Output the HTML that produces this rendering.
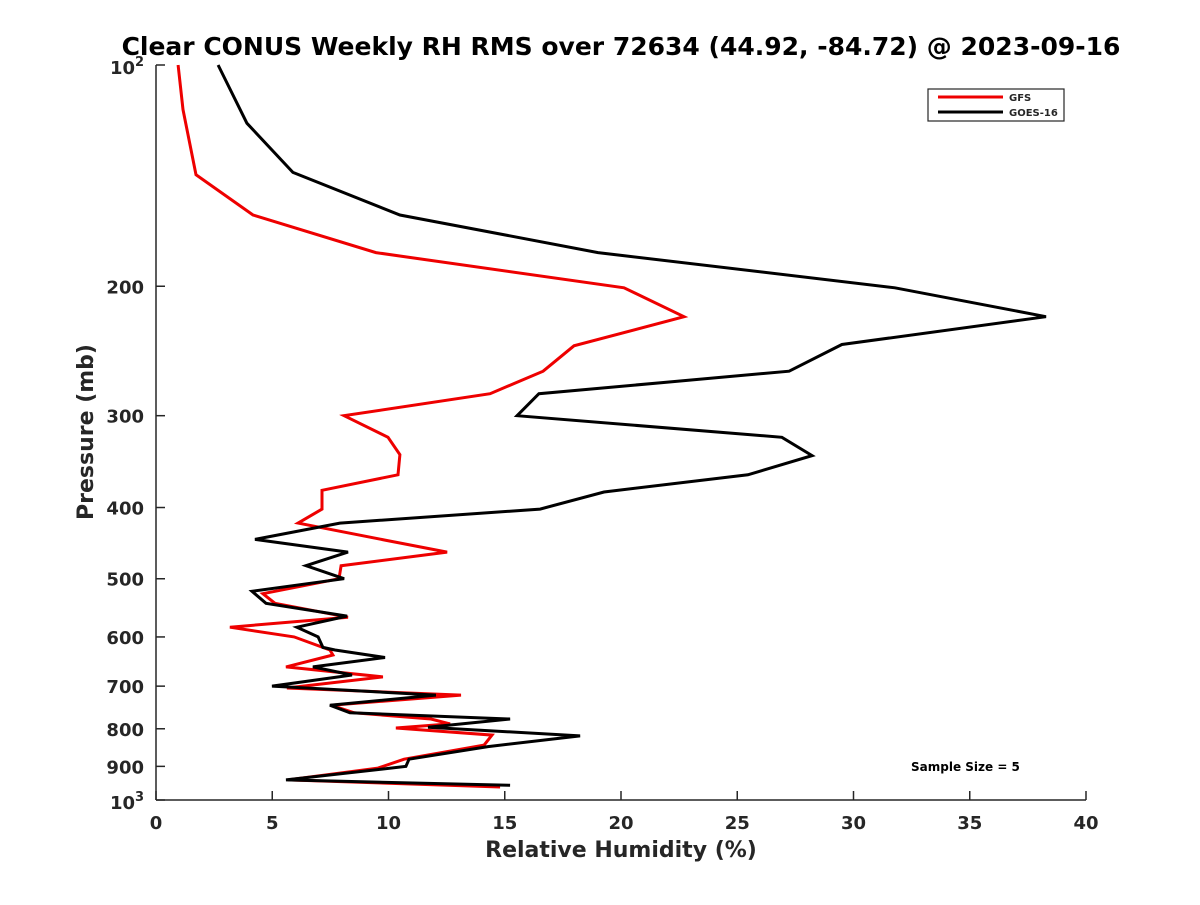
<!DOCTYPE html>
<html><head><meta charset="utf-8"><style>
body{margin:0;background:#fff}
svg text{font-family:"DejaVu Sans","Liberation Sans",sans-serif;font-weight:bold;fill:#262626}
</style></head><body>
<svg width="1200" height="900" id="c">
<rect width="1200" height="900" fill="#fff"/>
<text x="621" y="55" font-size="25" text-anchor="middle" style="fill:#000">Clear CONUS Weekly RH RMS over 72634 (44.92, -84.72) @ 2023-09-16</text>
<g id="axes"></g>
<g id="series"></g>
<g>
<rect x="928" y="89" width="136" height="32" fill="#fff" stroke="#262626" stroke-width="1.2"/>
<line x1="938" y1="97" x2="1003" y2="97" stroke="#e00" stroke-width="3"/>
<text x="1009" y="101" font-size="10">GFS</text>
<line x1="938" y1="112" x2="1003" y2="112" stroke="#000" stroke-width="3"/>
<text x="1009" y="116" font-size="10">GOES-16</text>
</g>
<text x="911" y="771" font-size="12" style="fill:#000">Sample Size = 5</text>
<text x="621" y="857" font-size="22" text-anchor="middle">Relative Humidity (%)</text>
<text transform="translate(93,432) rotate(-90)" font-size="22" text-anchor="middle">Pressure (mb)</text>
</svg>
<script>
const xTicks=[0,5,10,15,20,25,30,35,40];
const yTicks=[200,300,400,500,600,700,800,900];
const gfsP=[100,115,141,160,180,201,220,241,261,280,300,321,339,361,379,402,420,443,460,480,500,524,540,564,582,600,625,635,659,680,704,720,743,761,776,788,798,816,842,880,905,939,960];
const gfsV=[0.95,1.16,1.72,4.17,9.46,20.13,22.71,17.98,16.65,14.37,8.09,9.98,10.49,10.41,7.14,7.14,6.11,9.85,12.52,7.96,7.87,4.6,5.12,8.26,3.18,5.94,7.48,7.61,5.59,9.76,5.63,13.12,7.53,8.52,11.83,12.65,10.32,14.45,14.11,10.67,9.55,5.68,14.8];
const goesP=[100,120,140,160,180,201,220,240,261,280,300,321,340,361,381,402,420,442,460,480,500,520,540,562,582,600,620,625,640,659,676,700,720,743,761,776,796,818,846,880,900,939,955];
const goesV=[2.67,3.91,5.89,10.49,19.01,31.78,38.28,29.5,27.23,16.47,15.53,26.92,28.22,25.46,19.27,16.52,7.91,4.26,8.26,6.45,8.09,4.13,4.73,8.22,6.06,6.97,7.18,7.7,9.85,6.75,8.43,4.99,12.04,7.48,8.34,15.23,11.7,18.24,14.28,10.88,10.75,5.59,15.23];
const NS='http://www.w3.org/2000/svg';
const X0=156,X1=1086,Y0=65,Y1=800;
const xs=v=>X0+(v-0)/(40-0)*(X1-X0);
const ys=p=>Y0+Math.log10(p/100)*(Y1-Y0);
function mk(t,a,parent){const e=document.createElementNS(NS,t);for(const k in a)e.setAttribute(k,a[k]);parent.appendChild(e);return e;}
const ax=document.getElementById('axes');
let l=mk('line',{x1:X0,y1:Y0,x2:X0,y2:Y1,stroke:'#262626','stroke-width':1.5},ax);


l=mk('line',{x1:X0,y1:Y1,x2:X1,y2:Y1,stroke:'#262626','stroke-width':1.5},ax);


xTicks.forEach(v=>{const x=xs(v);
 const t=mk('line',{x1:x,y1:Y1,x2:x,y2:Y1-9,stroke:'#262626','stroke-width':1.5},ax);
 
 
 const tx=mk('text',{x:x,y:Y1+29,'font-size':18,'text-anchor':'middle'},ax);tx.textContent=v;
 
 
});
[100].concat(yTicks,[1000]).forEach(p=>{const y=ys(p);
 const t=mk('line',{x1:X0,y1:y,x2:X0+9,y2:y,stroke:'#262626','stroke-width':1.5},ax);
 
 
});
yTicks.forEach(p=>{const y=ys(p);
 const tx=mk('text',{x:X0-12,y:y+7,'font-size':18,'text-anchor':'end'},ax);tx.textContent=p;
 
 
});
[[100,'2'],[1000,'3']].forEach(([p,e])=>{const y=ys(p);
 const tx=mk('text',{x:X0-21,y:y+9,'font-size':18,'text-anchor':'end'},ax);tx.textContent='10';
 
 
 const s=mk('text',{x:X0-21,y:y+1,'font-size':13},ax);s.textContent=e;
 
 
});
const sg=document.getElementById('series');
function line(P,V,col,name){
 const d=P.map((p,i)=>(i?'L':'M')+xs(V[i]).toFixed(1)+','+ys(p).toFixed(1)).join('');
 const e=mk('path',{d:d,fill:'none',stroke:col,'stroke-width':3,'stroke-linejoin':'miter'},sg);
 
 
}
line(gfsP,gfsV,'#e00','gfs-line');
line(goesP,goesV,'#000','goes16-line');
</script>
</body></html>
